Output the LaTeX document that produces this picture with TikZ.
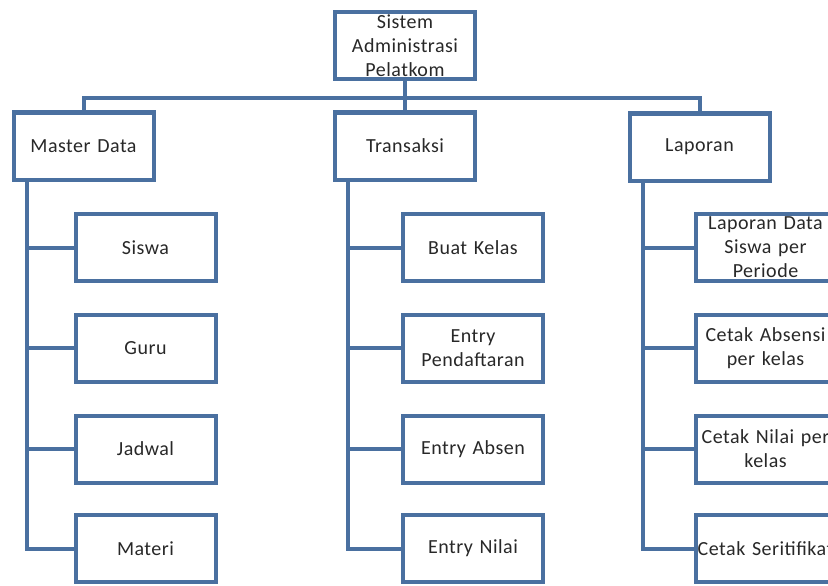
\documentclass[tikz,border=0pt]{standalone}
\usepackage{fontspec}
\setmainfont{Carlito}[LetterSpace=2.5]
\definecolor{boxblue}{RGB}{74,112,160}
\definecolor{txtgray}{RGB}{40,40,40}
\begin{document}
\begin{tikzpicture}[x=1pt,y=-1pt,
  box/.style={draw=boxblue, line width=4pt, fill=white, rectangle,
    minimum width=140pt, minimum height=67pt, inner sep=2pt,
    text width=136pt, align=center, text=txtgray,
    font=\fontsize{20}{24}\selectfont},
  conn/.style={draw=boxblue, line width=4pt, line join=miter}]
\fill[white] (0,0) rectangle (828,586);
\useasboundingbox (0,0) rectangle (828,586);

% root and level 1
\node[box] (root) at (405,45.5) {Sistem\\Administrasi\\Pelatkom};
\node[box] (md) at (83.5,146) {Master Data};
\node[box] (tr) at (405,146) {Transaksi};
\node[box] (lp) at (699.5,147) {Laporan};

% children of Master Data
\node[box] (md1) at (145.5,247.5) {Siswa};
\node[box] (md2) at (145.5,348) {Guru};
\node[box] (md3) at (145.5,449) {Jadwal};
\node[box] (md4) at (145.5,548.5) {Materi};

% children of Transaksi
\node[box] (tr1) at (473,247.5) {Buat Kelas};
\node[box] (tr2) at (473,348) {Entry\\Pendaftaran};
\node[box] (tr3) at (473,449) {Entry Absen};
\node[box] (tr4) at (473,548.5) {Entry Nilai};

% children of Laporan
\node[box] (lp1) at (765.5,247.5) {Laporan Data\\Siswa per\\Periode};
\node[box] (lp2) at (765.5,348) {Cetak Absensi\\per kelas};
\node[box] (lp3) at (765.5,449) {Cetak Nilai per\\kelas};
\node[box] (lp4) at (765.5,548.5) {Cetak Seritifikat};

% helper coordinates
\coordinate (bus) at (0,98);
\coordinate (mdsp) at (27,0);
\coordinate (trsp) at (348,0);
\coordinate (lpsp) at (643,0);

% bus connectors
\begin{scope}[on background layer/.style={}]
\draw[conn] (md.north) -- (md.north |- bus) -- (lp.north |- bus) -- (lp.north);
\draw[conn] (root.south) -- (root.south |- bus);
\draw[conn] (tr.north) -- (tr.north |- bus);

% spines
\draw[conn] (mdsp |- md.south) |- (md4.west);
\foreach \c in {md1,md2,md3} \draw[conn] (mdsp |- \c.west) -- (\c.west);
\draw[conn] (trsp |- tr.south) |- (tr4.west);
\foreach \c in {tr1,tr2,tr3} \draw[conn] (trsp |- \c.west) -- (\c.west);
\draw[conn] (lpsp |- lp.south) |- (lp4.west);
\foreach \c in {lp1,lp2,lp3} \draw[conn] (lpsp |- \c.west) -- (\c.west);
\end{scope}
\end{tikzpicture}
\end{document}
